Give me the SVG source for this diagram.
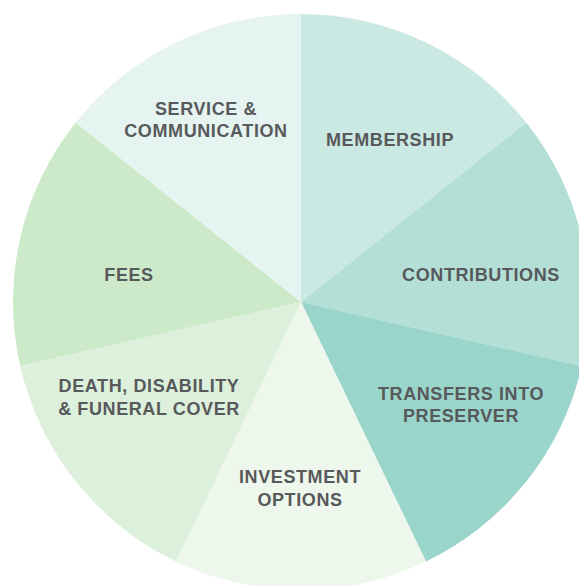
<svg xmlns="http://www.w3.org/2000/svg" width="579" height="586" viewBox="0 0 579 586">
<style>
.lbl{font-family:"Liberation Sans",Arial,sans-serif;font-weight:bold;font-size:18px;letter-spacing:0.6px;fill:#58595b;text-anchor:middle}
</style>
<rect width="579" height="586" fill="#ffffff"/>
<g id="membership">
<path d="M301,302 L301,14 A288,288 0 0 1 526.17,122.43 Z" fill="#cbe9e3"/>
<text class="lbl" x="390" y="146">MEMBERSHIP</text>
</g>
<g id="contributions">
<path d="M301,302 L526.17,122.43 A288,288 0 0 1 581.78,366.09 Z" fill="#b3dfd6"/>
<text class="lbl" x="481" y="281">CONTRIBUTIONS</text>
</g>
<g id="transfers">
<path d="M301,302 L581.78,366.09 A288,288 0 0 1 425.96,561.48 Z" fill="#99d5ca"/>
<text class="lbl" x="461" y="400">TRANSFERS INTO</text>
<text class="lbl" x="461" y="422">PRESERVER</text>
</g>
<g id="investment">
<path d="M301,302 L425.96,561.48 A288,288 0 0 1 176.04,561.48 Z" fill="#edf7ec"/>
<text class="lbl" x="300" y="483">INVESTMENT</text>
<text class="lbl" x="300" y="506">OPTIONS</text>
</g>
<g id="death">
<path d="M301,302 L176.04,561.48 A288,288 0 0 1 20.22,366.09 Z" fill="#dcf0dc"/>
<text class="lbl" x="149" y="392">DEATH, DISABILITY</text>
<text class="lbl" x="149" y="415">&amp; FUNERAL COVER</text>
</g>
<g id="fees">
<path d="M301,302 L20.22,366.09 A288,288 0 0 1 75.83,122.43 Z" fill="#cceac9"/>
<text class="lbl" x="129" y="281">FEES</text>
</g>
<g id="service">
<path d="M301,302 L75.83,122.43 A288,288 0 0 1 301,14 Z" fill="#e5f4f1"/>
<text class="lbl" x="206" y="115">SERVICE &amp;</text>
<text class="lbl" x="206" y="137">COMMUNICATION</text>
</g>
<g id="connectors"/>
</svg>
